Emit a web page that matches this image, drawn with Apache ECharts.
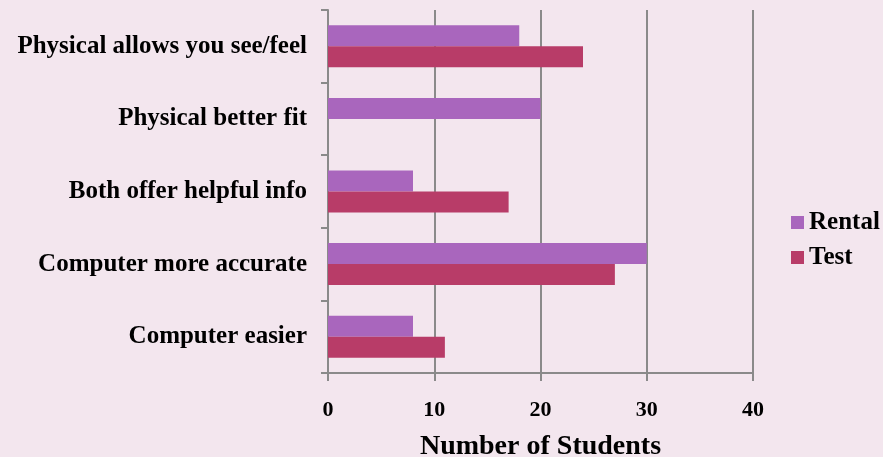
<!DOCTYPE html>
<html>
<head>
<meta charset="utf-8">
<script src="https://cdn.jsdelivr.net/npm/echarts@6/dist/echarts.min.js"></script>
<style>
html,body{margin:0;padding:0;background:#F3E6EE;}
#chart{width:883px;height:457px;}
</style>
</head>
<body>
<div id="chart"></div>
<script>
// categories listed bottom to top
const categories = ['Computer easier','Computer more accurate','Both offer helpful info','Physical better fit','Physical allows you see/feel'];
const rental = [8, 30, 8, 20, 18];
const test = [11, 27, 17, 0, 24];
const xTicks = [0, 10, 20, 30, 40];

const FONT = '"Liberation Serif", "DejaVu Serif", serif';
const chart = echarts.init(document.getElementById('chart'));
chart.setOption({
  backgroundColor: '#F3E6EE',
  animation: false,
  grid: {left: 328, right: 130, top: 10, bottom: 84, containLabel: false, outerBoundsMode: 'none'},
  legend: {
    orient: 'vertical', left: 786, top: 205,
    data: ['Rental', 'Test'],
    itemWidth: 13, itemHeight: 13, itemGap: 10,
    icon: 'rect',
    textStyle: {fontFamily: FONT, fontWeight: 'bold', fontSize: 25, color: '#000'}
  },
  xAxis: {
    type: 'value', min: xTicks[0], max: xTicks[xTicks.length-1], interval: 10,
    name: 'Number of Students', nameLocation: 'middle', nameGap: 60,
    nameTextStyle: {fontFamily: FONT, fontWeight: 'bold', fontSize: 28, color: '#000'},
    axisLine: {show: true, lineStyle: {color: '#8a8a8a', width: 2}},
    axisTick: {show: true, length: 8, lineStyle: {color: '#8a8a8a', width: 2}},
    axisLabel: {margin: 26, fontFamily: FONT, fontWeight: 'bold', fontSize: 22, color: '#000'},
    splitLine: {show: true, lineStyle: {color: '#8a8a8a', width: 2}}
  },
  yAxis: {
    type: 'category', data: categories,
    axisLine: {show: true, lineStyle: {color: '#8a8a8a', width: 2}},
    axisTick: {show: true, length: 7, lineStyle: {color: '#8a8a8a', width: 2}},
    axisLabel: {margin: 21, fontFamily: FONT, fontWeight: 'bold', fontSize: 25, color: '#000'}
  },
  series: [
    {name: 'Rental', type: 'bar', data: rental, barWidth: 21, barGap: '0%', itemStyle: {color: '#A966BD'}},
    {name: 'Test', type: 'bar', data: test, barWidth: 21, barGap: '0%', itemStyle: {color: '#B83C68'}}
  ]
});
</script>
</body>
</html>
